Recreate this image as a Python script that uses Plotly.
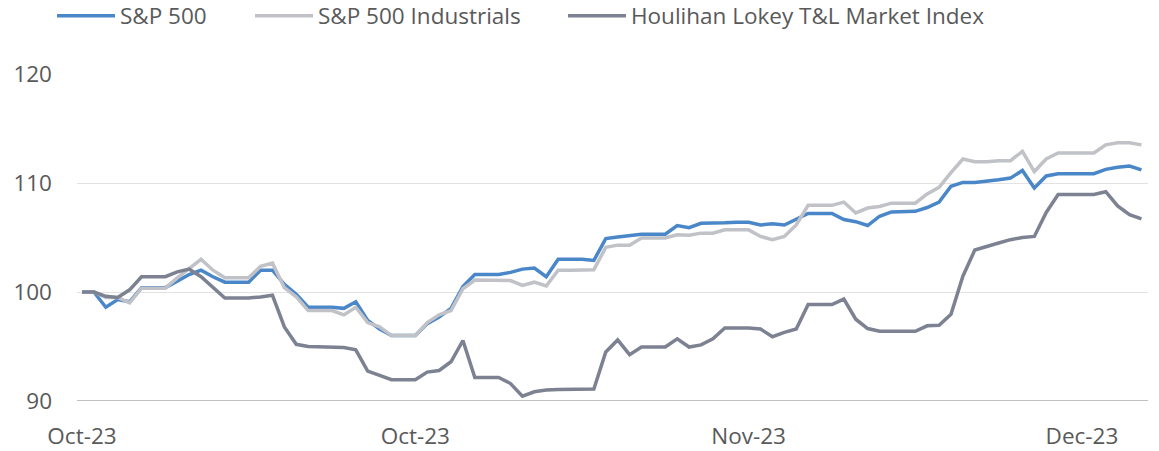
import plotly.graph_objects as go

# Index levels (rebased to 100), one value per trading day
sp500 = [
    100.0, 100.0, 98.6, 99.3, 99.1, 100.4, 100.4, 100.4, 101.0, 101.6,
    102.0, 101.4, 100.9, 100.9, 100.9, 102.0, 102.0, 100.7, 99.8, 98.6,
    98.6, 98.6, 98.5, 99.1, 97.4, 96.6, 96.0, 96.0, 96.0, 97.1,
    97.7, 98.5, 100.5, 101.6, 101.6, 101.6, 101.8, 102.1, 102.2, 101.4,
    103.0, 103.0, 103.0, 102.9, 104.9, 105.05, 105.2, 105.3, 105.3, 105.3,
    106.1, 105.9, 106.3, 106.3, 106.35, 106.4, 106.4, 106.15, 106.25, 106.15,
    106.7, 107.2, 107.2, 107.2, 106.65, 106.45, 106.1, 106.95, 107.35, 107.35,
    107.4, 107.75, 108.25, 109.7, 110.05, 110.05, 110.15, 110.3, 110.45, 111.15,
    109.55, 110.65, 110.85, 110.85, 110.85, 110.85, 111.25, 111.45, 111.55, 111.2,
]

sp500_industrials = [
    100.0, 100.0, 99.5, 99.5, 99.0, 100.35, 100.35, 100.35, 101.3, 102.2,
    103.0, 102.0, 101.3, 101.3, 101.3, 102.35, 102.65, 100.4, 99.55, 98.3,
    98.3, 98.3, 97.9, 98.6, 97.2, 96.8, 96.0, 96.0, 96.0, 97.2,
    97.9, 98.3, 100.3, 101.1, 101.1, 101.1, 101.05, 100.6, 100.9, 100.55,
    102.0, 102.0, 102.0, 102.05, 104.1, 104.3, 104.3, 104.95, 104.95, 104.95,
    105.25, 105.2, 105.4, 105.4, 105.7, 105.7, 105.7, 105.1, 104.8, 105.1,
    106.15, 107.95, 107.95, 107.95, 108.25, 107.25, 107.7, 107.85, 108.15, 108.15,
    108.15, 109.0, 109.6, 110.95, 112.2, 111.95, 111.95, 112.05, 112.05, 112.9,
    111.05, 112.2, 112.75, 112.75, 112.75, 112.75, 113.5, 113.7, 113.7, 113.5,
]

hl_tl_index = [
    100.0, 100.0, 99.6, 99.5, 100.2, 101.4, 101.4, 101.4, 101.85, 102.1,
    101.4, 100.45, 99.45, 99.45, 99.45, 99.55, 99.7, 96.8, 95.2, 95.0,
    94.95, 94.95, 94.9, 94.7, 92.75, 92.35, 91.95, 91.95, 91.95, 92.65,
    92.8, 93.6, 95.55, 92.15, 92.15, 92.15, 91.6, 90.45, 90.85, 91.0,
    91.05, 91.05, 91.05, 91.1, 94.5, 95.6, 94.25, 94.95, 94.95, 94.95,
    95.7, 94.95, 95.15, 95.7, 96.7, 96.7, 96.7, 96.6, 95.9, 96.3,
    96.6, 98.85, 98.85, 98.85, 99.35, 97.5, 96.65, 96.4, 96.4, 96.4,
    96.4, 96.9, 96.95, 97.95, 101.45, 103.85, 104.2, 104.5, 104.8, 105.0,
    105.1, 107.3, 108.95, 108.95, 108.95, 108.95, 109.2, 107.9, 107.1, 106.7,
]

day_index = list(range(len(sp500)))

# Month labels shown along the time axis
tick_positions = [0, 28, 56, 84]
tick_labels = ["Oct-23", "Oct-23", "Nov-23", "Dec-23"]

series_names = ["S&P 500", "S&P 500 Industrials", "Houlihan Lokey T&L Market Index"]
series_values = [sp500, sp500_industrials, hl_tl_index]
series_colors = ["#4a87c9", "#c0c2c7", "#7d8292"]

# Each series gets its own legend box so the entries can be spaced freely
legend_ids = ["legend", "legend2", "legend3"]
legend_x = [52, 250, 563]  # left edge of each legend box, in pixels

FONT = "Open Sans, Noto Sans, sans-serif"
TEXT_COLOR = "#595959"
FONT_SIZE = 22.5
WIDTH, HEIGHT = 1159, 451

fig = go.Figure()
for name, values, color, lg in zip(series_names, series_values, series_colors, legend_ids):
    fig.add_trace(go.Scatter(
        x=day_index,
        y=values,
        mode="lines",
        name=name,
        legend=lg,
        line=dict(color=color, width=3.5),
    ))

legend_common = dict(
    orientation="h",
    xref="container",
    yref="container",
    xanchor="left",
    yanchor="middle",
    y=1 - 16 / HEIGHT,
    font=dict(family=FONT, size=FONT_SIZE, color=TEXT_COLOR),
    itemwidth=58,
    bgcolor="rgba(0,0,0,0)",
)

fig.update_layout(
    width=WIDTH,
    height=HEIGHT,
    margin=dict(l=77, r=11, t=74, b=50, autoexpand=False),
    paper_bgcolor="white",
    plot_bgcolor="white",
    font=dict(family=FONT, size=FONT_SIZE, color=TEXT_COLOR),
    showlegend=True,
    legend=dict(legend_common, x=legend_x[0] / WIDTH),
    legend2=dict(legend_common, x=legend_x[1] / WIDTH),
    legend3=dict(legend_common, x=legend_x[2] / WIDTH),
    xaxis=dict(
        range=[-0.42, 89.55],
        tickmode="array",
        tickvals=tick_positions,
        ticktext=tick_labels,
        showgrid=False,
        zeroline=False,
        showline=False,
        ticks="",
        automargin=False,
        ticklabelstandoff=19,
        tickfont=dict(family=FONT, size=FONT_SIZE, color=TEXT_COLOR),
    ),
    yaxis=dict(
        range=[90, 120],
        tickmode="array",
        tickvals=[90, 100, 110, 120],
        showgrid=True,
        gridcolor="#e2e2e2",
        gridwidth=1,
        zeroline=False,
        showline=False,
        ticks="",
        automargin=False,
        ticklabelstandoff=24,
        tickfont=dict(family=FONT, size=FONT_SIZE, color=TEXT_COLOR),
    ),
)

# Darker baseline along the bottom of the plot area
fig.add_hline(y=90, line=dict(color="#bfc1c5", width=2), layer="below")

fig.write_html("out.html")
